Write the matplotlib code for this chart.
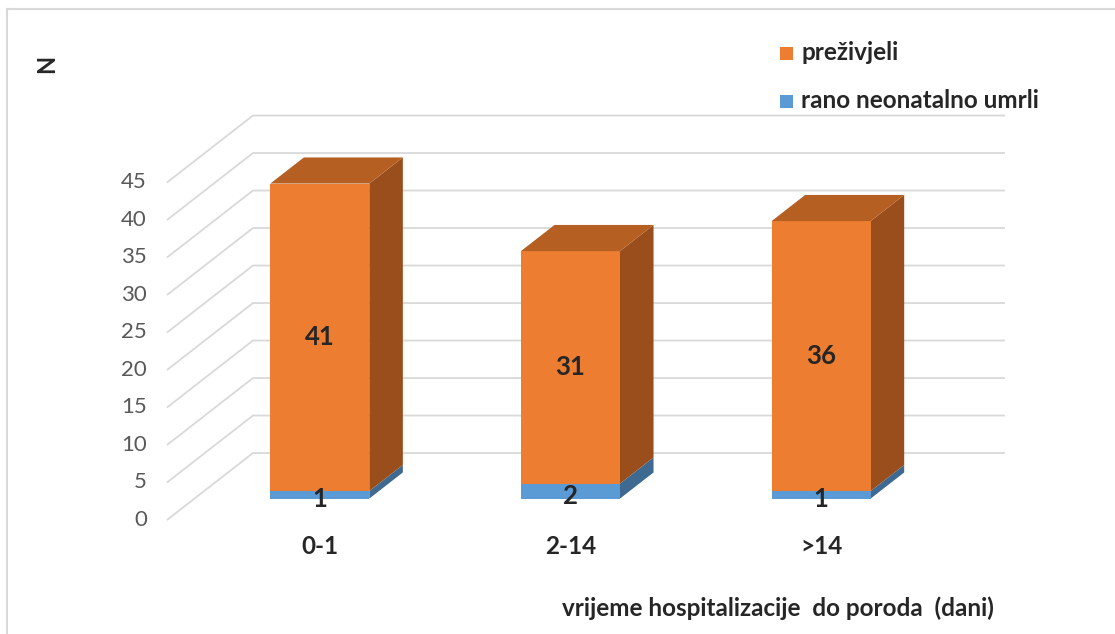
import numpy as np
import matplotlib
matplotlib.use('Agg')
import matplotlib.pyplot as plt
from matplotlib.patches import Polygon

plt.rcParams['font.family'] = ['Lato', 'DejaVu Sans']

# data
categories = ['0-1', '2-14', '>14']
prezivjeli = [41, 31, 36]
umrli = [1, 2, 1]
series_names = ['preživjeli', 'rano neonatalno umrli']
yticks = np.arange(0, 50, 5)

# colours (Excel style)
orange, orange_top, orange_side = '#ED7D31', '#B65F22', '#9A4E1C'
blue, blue_top, blue_side = '#5B9BD5', '#4A7FB0', '#3E6990'
grid_c = '#d9d9d9'
text_c = '#262626'

# oblique 3d look: depth offset in data units
DX, DY = 0.343, 8.93
F0, F1 = 0.32, 0.71      # bar depth span (fraction of floor depth)
W = 0.395                # bar width

def proj(x, v, f):
    return (x + f * DX, v + f * DY)

fig = plt.figure(figsize=(11.15, 6.34), dpi=100)
ax = fig.add_axes([0, 0, 1, 1])
ax.set_xlim(-1.1661, 3.2820)
ax.set_ylim(-15.2, 69.333)
ax.axis('off')

# walls gridlines
for v in yticks:
    p0 = proj(-0.5, v, 0)
    p1 = proj(-0.5, v, 1)
    p2 = proj(2.5, v, 1)
    ax.plot([p0[0], p1[0], p2[0]], [p0[1], p1[1], p2[1]], color=grid_c, lw=1.3,
            solid_capstyle='butt', zorder=1)
    ax.text(-0.58, v, str(v), ha='right', va='center', fontsize=16, color='#595959')

def draw_box(cx, v0, v1, front, top, side, with_top):
    xl, xr = cx - W / 2, cx + W / 2
    face = [proj(xl, v0, F0), proj(xr, v0, F0), proj(xr, v1, F0), proj(xl, v1, F0)]
    sidef = [proj(xr, v0, F0), proj(xr, v0, F1), proj(xr, v1, F1), proj(xr, v1, F0)]
    ax.add_patch(Polygon(sidef, closed=True, facecolor=side, edgecolor='none', zorder=3))
    ax.add_patch(Polygon(face, closed=True, facecolor=front, edgecolor='none', zorder=3))
    if with_top:
        topf = [proj(xl, v1, F0), proj(xr, v1, F0), proj(xr, v1, F1), proj(xl, v1, F1)]
        ax.add_patch(Polygon(topf, closed=True, facecolor=top, edgecolor='none', zorder=3))

for i, (p, d) in enumerate(zip(prezivjeli, umrli)):
    draw_box(i, 0, d, blue, blue_top, blue_side, False)
    draw_box(i, d, d + p, orange, orange_top, orange_side, True)
    fx, fy = proj(i, 0, F0)
    ax.text(fx, fy + d + p / 2, str(p), ha='center', va='center', fontsize=18.5,
            fontweight='bold', color=text_c, zorder=5)
    ax.text(fx, fy + d / 2 - 0.6, str(d), ha='center', va='center', fontsize=18.5,
            fontweight='bold', color=text_c, zorder=5)
    ax.text(fx, -3.6, categories[i], ha='center', va='center', fontsize=17.5,
            fontweight='bold', color=text_c)

# legend (manual, top right)
for k, (name, c) in enumerate(zip(series_names, [orange, blue])):
    yy = 1 - (53 + 48 * k) / 634
    fig.patches.append(matplotlib.patches.Rectangle((780 / 1115, yy - 6.5 / 634), 13 / 1115, 13 / 634,
                                                    transform=fig.transFigure, facecolor=c,
                                                    edgecolor='none'))
    fig.text(801 / 1115, yy, name, ha='left', va='center', fontsize=17.5,
             fontweight='bold', color=text_c)

# axis titles
fig.text(47 / 1115, 1 - 64 / 634, 'N', rotation=90, ha='center', va='center',
         fontsize=17, fontweight='bold', color=text_c)
fig.text(778 / 1115, 1 - 608 / 634, 'vrijeme hospitalizacije  do poroda  (dani)',
         ha='center', va='center', fontsize=17.5, fontweight='bold', color=text_c)

# chart area border (left and top visible)
fig.add_artist(plt.Line2D([7 / 1115, 7 / 1115], [0, 1 - 9 / 634], color=grid_c, lw=1.5,
                          transform=fig.transFigure))
fig.add_artist(plt.Line2D([7 / 1115, 1], [1 - 9 / 634, 1 - 9 / 634], color=grid_c, lw=1.5,
                          transform=fig.transFigure))

plt.savefig('out.png', dpi=100)
